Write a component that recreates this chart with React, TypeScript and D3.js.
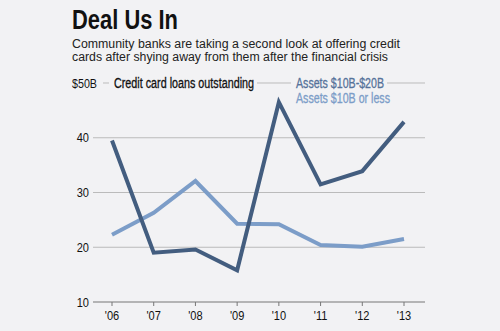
import React, { useEffect, useRef } from "react";
import * as d3 from "d3";

const years = ["'06", "'07", "'08", "'09", "'10", "'11", "'12", "'13"];
const assets10to20 = [39.5, 19.0, 19.6, 15.8, 46.5, 31.5, 33.9, 42.9];
const assets10orLess = [22.3, 26.3, 32.1, 24.3, 24.2, 20.4, 20.1, 21.5];
const yTicks = [10, 20, 30, 40, 50];
const yTickLabels = ["10", "20", "30", "40", "$50B"];
const title = "Deal Us In";
const subtitle = [
  "Community banks are taking a second look at offering credit",
  "cards after shying away from them after the financial crisis",
];
const chartLabel = "Credit card loans outstanding";
const seriesNames = ["Assets $10B-$20B", "Assets $10B or less"];

const W = 500, H = 331;
const BG = "#f2f2f4";
const DARK = "#435d7f";
const LIGHT = "#7c9dc8";
const SANS = "'Liberation Sans', Arial, sans-serif";

export default function App() {
  const ref = useRef<SVGSVGElement>(null);
  useEffect(() => {
    const svg = d3.select(ref.current);
    svg.selectAll("*").remove();
    svg.append("rect").attr("width", W).attr("height", H).attr("fill", BG);

    const x = d3.scalePoint<string>().domain(years).range([112, 404]);
    const y = d3.scaleLinear().domain([10, 50]).range([302, 83]);
    const left = 93, right = 425;

    const condensed = (sel: d3.Selection<SVGTextElement, unknown, null, undefined>, factor: number, fixed?: number) => {
      const n = sel.node() as SVGTextElement;
      const w = n.getComputedTextLength();
      const target = fixed ?? w * factor;
      sel.attr("textLength", target).attr("lengthAdjust", "spacingAndGlyphs");
      return target;
    };

    const t0 = svg.append("text").attr("x", 72).attr("y", 29).text(title)
      .attr("font-family", SANS).attr("font-weight", "bold").attr("font-size", 27).attr("fill", "#111");
    condensed(t0 as any, 0.8, 106);
    subtitle.forEach((s, i) => {
      const st = svg.append("text").attr("x", 72).attr("y", 48 + i * 12.5).text(s)
        .attr("font-family", SANS).attr("font-size", 12.3).attr("fill", "#222");
      condensed(st as any, 1, i === 0 ? 328 : 316);
    });

    const g = svg.append("g");
    yTicks.forEach((t) => {
      g.append("line").attr("x1", left).attr("x2", right).attr("y1", y(t)).attr("y2", y(t))
        .attr("stroke", t === 10 ? "#777" : "#bbb").attr("stroke-width", 1);
    });
    yTicks.forEach((t, i) => {
      if (t === 50) return;
      const tl = svg.append("text").attr("x", 89).attr("y", y(t) + 4.5).attr("text-anchor", "end").text(yTickLabels[i])
        .attr("font-family", SANS).attr("font-size", 13).attr("fill", "#111");
      condensed(tl as any, 0.85);
    });
    const lab50 = svg.append("text").attr("x", 72).attr("y", y(50) + 4.5).text(yTickLabels[4])
      .attr("font-family", SANS).attr("font-size", 13).attr("fill", "#111");
    const w50 = condensed(lab50 as any, 1, 25);
    g.append("rect").attr("x", 70).attr("y", y(50) - 3).attr("width", w50 + 8).attr("height", 6).attr("fill", BG);

    const addLegend = (txt: string, xx: number, yy: number, color: string, width: number, knock: boolean) => {
      const t = svg.append("text").attr("x", xx).attr("y", yy).text(txt)
        .attr("font-family", SANS).attr("font-size", 14).attr("fill", color)
        .attr("stroke", color).attr("stroke-width", 0.3);
      const w = condensed(t as any, 1, width);
      if (knock) {
        g.append("rect").attr("x", xx - 5).attr("y", y(50) - 3).attr("width", w + 8).attr("height", 6).attr("fill", BG);
      }
    };
    addLegend(chartLabel, 114, y(50) + 5, "#111", 140, true);
    addLegend(seriesNames[0], 296, y(50) + 5, "#56729a", 88, true);
    addLegend(seriesNames[1], 296, y(50) + 20, LIGHT, 94, false);

    years.forEach((yr) => {
      svg.append("line").attr("x1", x(yr)!).attr("x2", x(yr)!).attr("y1", 302).attr("y2", 306)
        .attr("stroke", "#777");
      const xl = svg.append("text").attr("x", x(yr)!).attr("y", 320).attr("text-anchor", "middle").text(yr)
        .attr("font-family", SANS).attr("font-size", 13).attr("fill", "#111");
      condensed(xl as any, 0.85);
    });

    const line = d3.line<number>().x((_, i) => x(years[i])!).y((d) => y(d));
    svg.append("path").attr("d", line(assets10orLess)).attr("fill", "none").attr("stroke", LIGHT)
      .attr("stroke-width", 4);
    svg.append("path").attr("d", line(assets10to20)).attr("fill", "none").attr("stroke", DARK)
      .attr("stroke-width", 4);
  }, []);
  return <svg ref={ref} width={W} height={H} style={{ display: "block", position: "absolute", left: 0, top: 0 }} />;
}
